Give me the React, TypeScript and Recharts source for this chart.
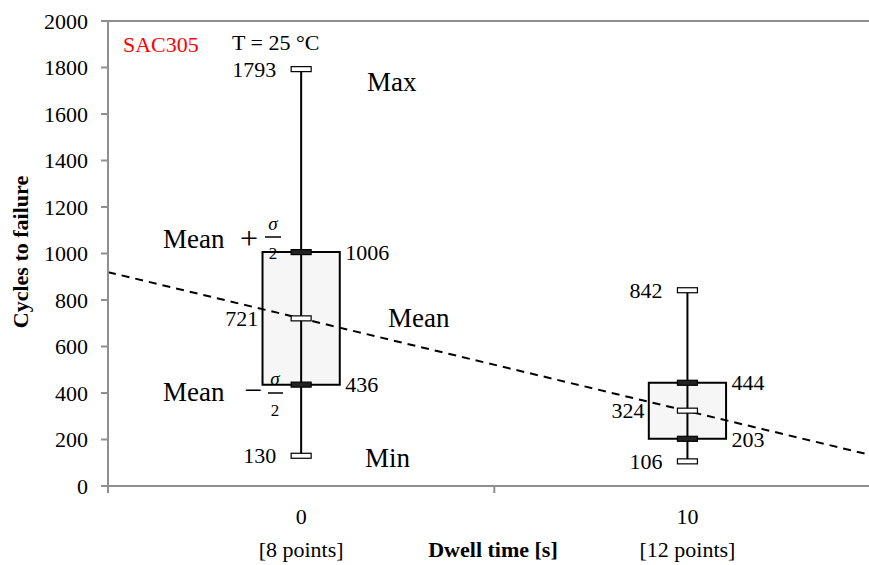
import { ComposedChart, XAxis, YAxis, Line, Scatter, ReferenceArea, ReferenceLine } from "recharts"

const dwellTimes = [0, 10]
const pointCounts = ["[8 points]", "[12 points]"]
const minCycles = [130, 106]
const lowCycles = [436, 203] // mean - sigma/2
const meanCycles = [721, 324]
const highCycles = [1006, 444] // mean + sigma/2
const maxCycles = [1793, 842]
const trendX = [-5, 14.7]
const trendY = [920, 135]
const yTicks = [0, 200, 400, 600, 800, 1000, 1200, 1400, 1600, 1800, 2000]

const serif = "Liberation Serif, Times New Roman, serif"
const axisGray = "#8f8f8f"

const trend = trendX.map((x, i) => ({ x, y: trendY[i] }))

const levelRows = (vals: number[]) => vals.map((y, i) => ({ x: dwellTimes[i], y }))

// label offset from the whisker centre, negative = left of it
const capLevels = [
  { name: "max", vals: maxCycles, filled: false, dx: -25 },
  { name: "high", vals: highCycles, filled: true, dx: 44 },
  { name: "mean", vals: meanCycles, filled: false, dx: -43 },
  { name: "low", vals: lowCycles, filled: true, dx: 44 },
  { name: "min", vals: minCycles, filled: false, dx: -25 },
]

function Cap(props: any) {
  const { cx, cy, payload, filled, dx } = props
  if (cx == null || cy == null) return null
  return (
    <g>
      <rect x={cx - 10} y={cy - 2.5} width={20} height={5} fill={filled ? "#222" : "#fff"} stroke="#000" strokeWidth={1.2} />
      <text
        x={cx + dx}
        y={cy}
        dy="0.35em"
        textAnchor={dx < 0 ? "end" : "start"}
        style={{ fontFamily: serif, fontSize: 22 }}
        fill="#000"
      >
        {payload.y}
      </text>
    </g>
  )
}

function XTick(props: any) {
  const { x, y, payload } = props
  const axisY = y - 8
  const i = dwellTimes.indexOf(payload.value)
  if (i < 0) {
    return <line x1={x} y1={axisY} x2={x} y2={axisY + 7} stroke={axisGray} strokeWidth={2} />
  }
  return (
    <g>
      <text x={x} y={axisY + 30} dy="0.35em" textAnchor="middle" fill="#000" style={{ fontFamily: serif, fontSize: 22 }}>
        {payload.value}
      </text>
      <text x={x} y={axisY + 63} dy="0.35em" textAnchor="middle" fill="#000" style={{ fontFamily: serif, fontSize: 22 }}>
        {pointCounts[i]}
      </text>
    </g>
  )
}

function YTick(props: any) {
  const { x, y, payload } = props
  return (
    <text x={x} y={y} dy="0.35em" textAnchor="end" fill="#000" style={{ fontFamily: serif, fontSize: 22 }}>
      {payload.value}
    </text>
  )
}

// text annotations drawn over the plot
function Notes() {
  const t = { fontFamily: serif }
  return (
    <svg
      width={869}
      height={565}
      style={{ position: "absolute", left: 0, top: 0, pointerEvents: "none" }}
    >
      <g style={t} fill="#000">
        <text x={123} y={44} dy="0.35em" fontSize={22} fill="#ff0000">SAC305</text>
        <text x={232} y={42} dy="0.35em" fontSize={22}>T = 25 °C</text>
        <text x={367} y={82} dy="0.35em" fontSize={27}>Max</text>
        <text x={388} y={318} dy="0.35em" fontSize={27}>Mean</text>
        <text x={365} y={458} dy="0.35em" fontSize={27}>Min</text>

        <text x={163} y={239} dy="0.35em" fontSize={27}>Mean</text>
        <text x={249} y={238} dy="0.35em" fontSize={32} textAnchor="middle">+</text>
        <text x={273} y={223} dy="0.35em" fontSize={19} fontStyle="italic" textAnchor="middle">σ</text>
        <line x1={265} y1={237} x2={281} y2={237} stroke="#000" strokeWidth={1.5} />
        <text x={273} y={253} dy="0.35em" fontSize={17} textAnchor="middle">2</text>

        <text x={163} y={392} dy="0.35em" fontSize={27}>Mean</text>
        <text x={253} y={390} dy="0.35em" fontSize={32} textAnchor="middle">−</text>
        <text x={275} y={378} dy="0.35em" fontSize={19} fontStyle="italic" textAnchor="middle">σ</text>
        <line x1={268} y1={393} x2={283} y2={393} stroke="#000" strokeWidth={1.5} />
        <text x={275} y={410} dy="0.35em" fontSize={17} textAnchor="middle">2</text>

        <text x={493} y={549} dy="0.35em" fontSize={22} fontWeight="bold" textAnchor="middle">Dwell time [s]</text>
        <text
          x={20}
          y={252}
          dy="0.35em"
          fontSize={22}
          fontWeight="bold"
          textAnchor="middle"
          transform="rotate(-90 20 252)"
        >
          Cycles to failure
        </text>
      </g>
    </svg>
  )
}

export default function App() {
  return (
    <div style={{ position: "absolute", left: 0, top: 0, width: 869, height: 565, background: "#fff" }}>
      <ComposedChart width={869} height={565} margin={{ top: 21, right: 0, bottom: 0, left: 0 }}>
        <XAxis
          type="number"
          dataKey="x"
          domain={[-5, 14.7]}
          ticks={[-5, 0, 5, 10]}
          allowDataOverflow
          height={79}
          stroke={axisGray}
          strokeWidth={2}
          tickLine={false}
          tick={<XTick />}
          interval={0}
        />
        <YAxis
          type="number"
          dataKey="y"
          domain={[0, 2000]}
          ticks={yTicks}
          width={108}
          stroke={axisGray}
          strokeWidth={2}
          tickSize={7}
          tickMargin={13}
          tick={<YTick />}
        />
        <ReferenceLine y={2000} stroke={axisGray} strokeWidth={2} />
        {dwellTimes.map((t, i) => (
          <ReferenceArea
            key={"box" + t}
            x1={t - 1}
            x2={t + 1}
            y1={lowCycles[i]}
            y2={highCycles[i]}
            fill="#f6f6f6"
            fillOpacity={1}
            stroke="#000"
            strokeWidth={2}
          />
        ))}
        {dwellTimes.map((t, i) => (
          <ReferenceLine
            key={"whisker" + t}
            segment={[{ x: t, y: minCycles[i] }, { x: t, y: maxCycles[i] }]}
            stroke="#000"
            strokeWidth={2}
          />
        ))}
        <Line
          data={trend}
          dataKey="y"
          type="linear"
          stroke="#000"
          strokeWidth={2}
          strokeDasharray="8 6"
          dot={false}
          activeDot={false}
          isAnimationActive={false}
        />
        {capLevels.map((lv) => (
          <Scatter
            key={lv.name}
            data={levelRows(lv.vals)}
            dataKey="y"
            isAnimationActive={false}
            shape={(p: any) => <Cap {...p} filled={lv.filled} dx={lv.dx} />}
          />
        ))}
      </ComposedChart>
      <Notes />
    </div>
  )
}
